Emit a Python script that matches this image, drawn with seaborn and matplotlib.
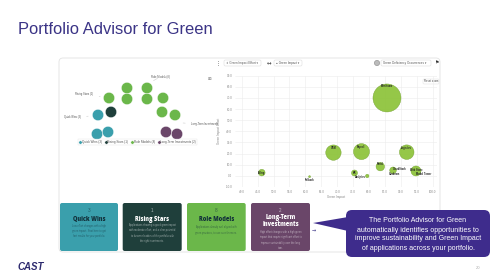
import matplotlib
matplotlib.use("Agg")
import matplotlib.pyplot as plt
from matplotlib.patches import FancyBboxPatch, Polygon
import seaborn as sns
import pandas as pd

# ---------------- data ----------------
# left packed-bubble overview (layout units)
seg_names = ["Quick Wins", "Rising Stars", "Role Models", "Long-Term Investments"]
seg_counts = [3, 1, 8, 2]
seg_colors = ["#3a9fac", "#1f3f3b", "#6bb74a", "#6a4669"]
cl_segment = (["Role Models"] * 8 + ["Quick Wins"] * 3 + ["Rising Stars"] * 1
              + ["Long-Term Investments"] * 2)
cl_x = [127, 147, 109, 127, 147, 163, 162, 175, 98, 97, 108, 111, 166, 177]
cl_y = [88, 88, 98, 99, 99, 98, 112, 115, 115, 134, 132, 112, 132, 134]

# right bubble chart
app_names = ["Mainframe", "CRM", "Payroll", "Logistics", "Portal", "CloudStack",
             "Web Store", "Billing", "HR", "Analytics", "Fallback"]
green_impact = [85.6, 68.8, 77.6, 91.8, 83.5, 87.5, 94.7, 46.3, 75.4, 79.4, 61.3]
impact_effort = [70.0, 20.9, 21.8, 21.3, 8.3, 5.0, 4.4, 2.9, 2.6, -0.1, -0.7]
deficiency = [196, 59, 64, 53, 18, 11, 25, 11, 9, 3, 1]
label_dx = [0, 0, 0, 0, 0, 7, 0, 0, 0, -7, 0]      # px
label_dy = [-12, -5, -5, -4, -3, -1, -1, 0, 0, 1, 3]  # px (down is +)
extra_labels = ["Sundown", "Model Tower"]
extra_x = [88.0, 97.0]
extra_y = [1.5, 1.5]

x_ticks = [40, 45, 50, 55, 60, 65, 70, 75, 80, 85, 90, 95, 100]
y_ticks = [-10, 0, 10, 20, 30, 40, 50, 60, 70, 80, 90]

card_numbers = ["3", "1", "8", "2"]
card_titles = ["Quick Wins", "Rising Stars", "Role Models", "Long-Term\nInvestments"]
card_texts = [
    "Low effort changes with a high\ngreen impact. Start here to get\nfast results for your portfolio.",
    "Applications showing a good green impact\nwith moderate effort, and a clear potential\nto become leaders of the portfolio with\nthe right investments.",
    "Applications already well aligned with\ngreen practices, to use as references.",
    "High effort changes with a high green\nimpact that require significant effort to\nimprove sustainability over the long\nterm.",
]
card_text_colors = ["#12303a", "#ffffff", "#12303a", "#ffffff"]

callout_text = ("The Portfolio Advisor for Green\nautomatically identifies opportunities to\n"
                "improve sustainability and Green Impact\nof applications across your portfolio.")

# ---------------- figure ----------------
sns.set_theme(style="white")
plt.rcParams["font.family"] = ["Liberation Sans", "DejaVu Sans"]

W, H = 498, 280
fig = plt.figure(figsize=(W / 100, H / 100), dpi=100)
fig.patch.set_facecolor("white")


def fbox(x0, y0, x1, y1):
    return [x0 / W, 1 - y1 / H, (x1 - x0) / W, (y1 - y0) / H]


bg = fig.add_axes([0, 0, 1, 1], zorder=0)
bg.set_xlim(0, W)
bg.set_ylim(H, 0)
bg.axis("off")

# title
bg.text(18, 34, "Portfolio Advisor for Green", fontsize=11.9, color="#3b3486",
        va="baseline", ha="left")

# panel frame
bg.add_patch(FancyBboxPatch((59, 58), 381, 194, boxstyle="round,pad=0,rounding_size=4",
                            fc="white", ec="#e2e2e2", lw=0.6))

# top controls of right chart
ctrl_color = "#555555"
for (x0, x1, txt) in [(224, 261, "⇕ Green Impact Effort ▾"), (274, 302, "● Green Impact ▾"),
                      (381, 431, "Green Deficiency Occurrences ▾")]:
    bg.add_patch(FancyBboxPatch((x0, 60), x1 - x0, 6, boxstyle="round,pad=0,rounding_size=1.5",
                                fc="white", ec="#dddddd", lw=0.4))
    bg.text(x0 + 2, 63, txt, fontsize=2.2, color=ctrl_color, va="center", ha="left")
bg.text(269, 63, "↔", fontsize=4, color="#444444", va="center", ha="center",
        family="DejaVu Sans")
bg.text(218, 63, "⋮", fontsize=4, color="#444444", va="center", ha="center",
        family="DejaVu Sans")
bg.add_patch(plt.Circle((377, 63), 2.6, fc="#bbbbbb", ec="#888888", lw=0.4))
bg.text(436, 63, "⚑", fontsize=3.5, color="#333333", va="center", ha="center",
        family="DejaVu Sans")
bg.text(209, 79, "⊞", fontsize=3.2, color="#777777", va="center", ha="center",
        family="DejaVu Sans")
bg.add_patch(FancyBboxPatch((423, 79), 16, 5, boxstyle="round,pad=0,rounding_size=1",
                            fc="white", ec="#dddddd", lw=0.3))
bg.text(431, 81.5, "Reset zoom", fontsize=1.9, color="#444444", va="center", ha="center")

# cards
card_x = [(60, 118), (122.7, 181.7), (187, 245.7), (251, 310)]
title_y = [219.5, 219.5, 219.5, 221]
desc_y = [231, 233, 230, 240]
for i, (x0, x1) in enumerate(card_x):
    bg.add_patch(FancyBboxPatch((x0, 203), x1 - x0, 48, boxstyle="round,pad=0,rounding_size=2",
                                fc=seg_colors[i], ec="none"))
    cx = (x0 + x1) / 2
    tc = card_text_colors[i]
    bg.text(cx, 211, card_numbers[i], fontsize=3.3, color=tc, alpha=0.6,
            ha="center", va="center")
    bg.text(cx, title_y[i], card_titles[i], fontsize=4.1, color=tc,
            fontweight="heavy", ha="center", va="center", linespacing=1.15,
            family=["Open Sans", "DejaVu Sans"])
    bg.text(cx, desc_y[i], card_texts[i], fontsize=1.8, color=tc, alpha=0.55,
            ha="center", va="center", linespacing=1.5)
bg.text(314, 231, "→", fontsize=3.5, color="#3b3486", ha="center", va="center",
        family="DejaVu Sans")

# callout
callout_color = "#3e2c8c"
bg.add_patch(FancyBboxPatch((346, 210), 144, 47, boxstyle="round,pad=0,rounding_size=6",
                            fc=callout_color, ec="none"))
bg.add_patch(Polygon([(313, 223), (348, 217), (348, 231)], closed=True,
                     fc=callout_color, ec="none"))
bg.text(418, 234.5, callout_text, fontsize=5.0, color="white", ha="center", va="center",
        linespacing=1.4)

# logo & page number
bg.text(18, 269.5, "CAST", fontsize=7, color="#2d2a6e", fontweight="bold",
        fontstyle="italic", ha="left", va="baseline")
bg.text(478, 268, "20", fontsize=3, color="#aaaaaa", ha="center", va="center")

# ---------------- left overview (seaborn) ----------------
axL = fig.add_axes(fbox(60, 70, 215, 150), zorder=1)
axL.patch.set_alpha(0)
df_cl = pd.DataFrame({"x": cl_x, "y": cl_y, "segment": cl_segment})
legend_labels = {n: f"{n} ({c})" for n, c in zip(seg_names, seg_counts)}
df_cl["segment"] = df_cl["segment"].map(legend_labels)
sns.scatterplot(data=df_cl, x="x", y="y", hue="segment",
                hue_order=[legend_labels[n] for n in seg_names],
                palette=seg_colors, s=66, edgecolor="white", linewidth=0.3, ax=axL)
axL.set_xlim(60, 215)
axL.set_ylim(150, 70)
axL.axis("off")
sns.move_legend(axL, "center", bbox_to_anchor=(0.5, 0.1), ncol=4, fontsize=2.2,
                frameon=True, markerscale=0.3, handletextpad=0.1, columnspacing=0.9,
                borderpad=0.35, title=None, handlelength=0.8)
leg = axL.get_legend()
leg.get_frame().set_edgecolor("#dddddd")
leg.get_frame().set_linewidth(0.3)
for t in leg.get_texts():
    t.set_color("#555555")

ann = [("Role Models (8)", (160, 77), (151, 82)),
       ("Rising Stars (1)", (84, 94), (103, 97)),
       ("Quick Wins (3)", (72, 117), (91, 116)),
       ("Long-Term Investments", (205, 124), (183, 123))]
for txt, (tx, ty), (px, py) in ann:
    axL.annotate(txt, xy=(px, py), xytext=(tx, ty), fontsize=1.9, color="#555555",
                 ha="center", va="center",
                 arrowprops=dict(arrowstyle="-", color="#bbbbbb", lw=0.3))

# ---------------- right bubble chart (seaborn) ----------------
axR = fig.add_axes(fbox(235, 75.7, 437, 187), zorder=1)
axR.patch.set_alpha(0)
df = pd.DataFrame({"impact": green_impact, "effort": impact_effort,
                   "deficiency": deficiency, "name": app_names})
sns.scatterplot(data=df, x="impact", y="effort", size="deficiency", sizes=(0, 406),
                size_norm=(0, 196), color="#8fc43e", edgecolor="#6f9e2c", linewidth=0.3,
                alpha=0.95, legend=False, ax=axR)
axR.set_xlim(37.9, 101.3)
axR.set_ylim(-10, 90)
axR.set_xticks(x_ticks)
axR.set_yticks(y_ticks)
axR.set_xticklabels([f"{v:.1f}" for v in x_ticks])
axR.set_yticklabels([f"{v:.1f}" for v in y_ticks])
axR.tick_params(length=0, labelsize=2.2, colors="#888888", pad=2)
axR.grid(True, color="#ececec", lw=0.4)
for s in axR.spines.values():
    s.set_visible(False)
axR.set_xlabel("Green Impact", fontsize=2.2, color="#888888", labelpad=1)
axR.set_ylabel("Green Impact Effort", fontsize=2.2, color="#888888", labelpad=3)
for i, row in df.iterrows():
    axR.annotate(row["name"], (row["impact"], row["effort"]),
                 xytext=(label_dx[i] * 0.72, -label_dy[i] * 0.72), textcoords="offset points",
                 fontsize=1.8, color="#222222", fontweight="bold", ha="center", va="center")
for t, x, y in zip(extra_labels, extra_x, extra_y):
    axR.text(x, y, t, fontsize=1.8, color="#222222", fontweight="bold", ha="center", va="center")

fig.savefig("out.png", dpi=100)
